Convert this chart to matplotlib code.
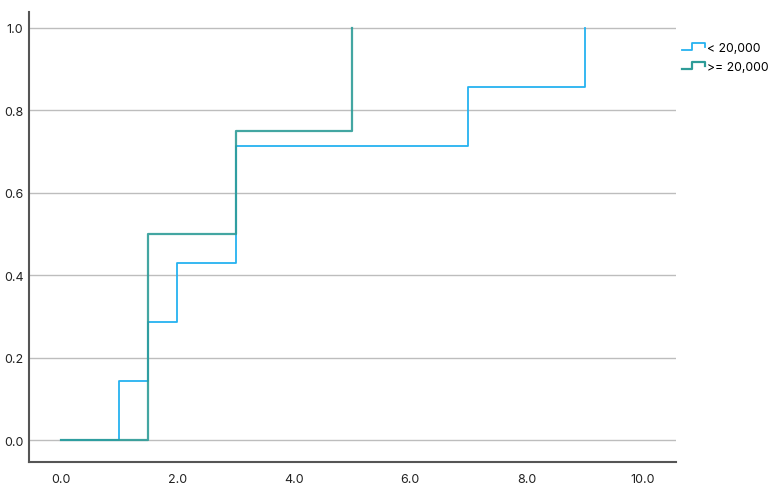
import matplotlib
matplotlib.use("Agg")
import matplotlib.pyplot as plt
from matplotlib.lines import Line2D
from matplotlib.legend_handler import HandlerBase

plt.rcParams['font.family'] = ['Inter', 'DejaVu Sans']

# Data
series_labels = ["< 20,000", ">= 20,000"]
x_low = [0, 1, 1.5, 2, 3, 7, 9]
y_low = [0, 1/7, 2/7, 3/7, 5/7, 6/7, 1.0]
x_high = [0, 1.5, 3, 5]
y_high = [0, 0.5, 0.75, 1.0]
xticks = [0, 2, 4, 6, 8, 10]
yticks = [0.0, 0.2, 0.4, 0.6, 0.8, 1.0]

c_low = "#25B2F0"
c_high = "#2E9C98"

fig = plt.figure(figsize=(7.72, 4.89), dpi=100)
ax = fig.add_axes([29/772, 1-463/489, (676-29)/772, (463-13)/489])

for y in yticks:
    ax.axhline(y, color="#BDBDBD", lw=1.0, zorder=1)

ax.step(x_low, y_low, where="post", color=c_low, lw=1.3, zorder=2, label=series_labels[0])
ax.step(x_high, y_high, where="post", color=c_high, lw=1.6, zorder=3, alpha=0.9, label=series_labels[1])

ax.set_xlim(-0.55, 10.57)
ax.set_ylim(-0.053, 1.038)
ax.set_xticks(xticks)
ax.set_xticklabels([f"{v:.1f}" for v in xticks])
ax.set_yticks(yticks)
ax.set_yticklabels([f"{v:.1f}" for v in yticks])
ax.tick_params(length=0, labelsize=9, colors="#222222", pad=8)
ax.tick_params(axis='y', pad=4)
for s in ["top", "right"]:
    ax.spines[s].set_visible(False)
for s in ["left", "bottom"]:
    ax.spines[s].set_color("#555555")
    ax.spines[s].set_linewidth(1.5)


class StepHandler(HandlerBase):
    def create_artists(self, legend, orig_handle, xdescent, ydescent, width, height, fontsize, trans):
        x0, x1 = -xdescent, -xdescent + width
        yl = -ydescent + height * 0.1
        yh = -ydescent + height * 0.9
        ym = -ydescent + height * 0.45
        xm = x0 + width * 0.45
        ln = Line2D([x0, xm, xm, x1, x1], [yl, yl, yh, yh, ym],
                    color=orig_handle.get_color(), lw=orig_handle.get_linewidth(), transform=trans)
        return [ln]


handles, labels = ax.get_legend_handles_labels()
leg = fig.legend(handles, labels, loc="upper left", bbox_to_anchor=(673/772, 1-34/489),
                 frameon=False, fontsize=8.8, handlelength=1.95, handletextpad=0.15,
                 labelspacing=0.6, borderpad=0.2,
                 handler_map={h: StepHandler() for h in handles})

fig.savefig("out.png", dpi=100)
